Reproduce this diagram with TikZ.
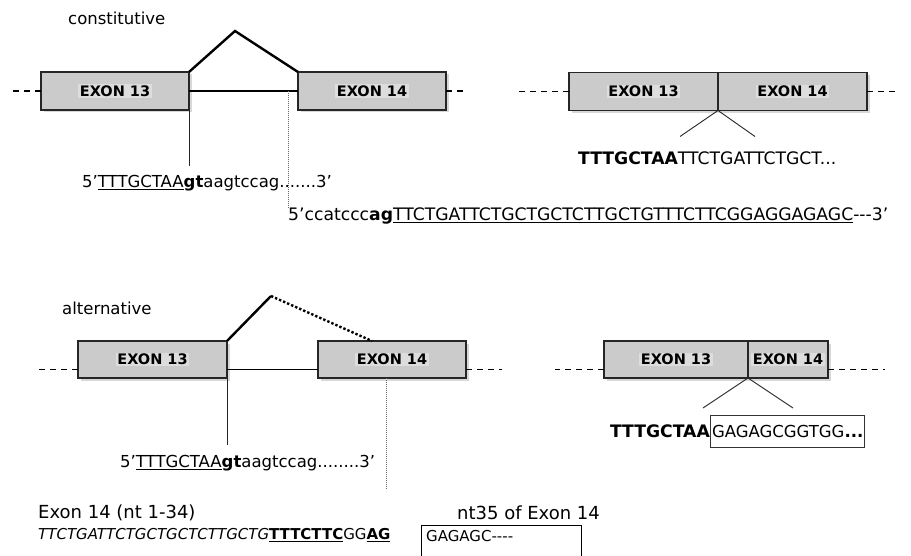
\documentclass[tikz,border=0pt]{standalone}
\usepackage{fontspec}
\setmainfont{DejaVu Sans}
\usetikzlibrary{shadows}
\definecolor{exonfill}{HTML}{CBCBCB}
\definecolor{labelfill}{HTML}{DDDDDD}
\setlength{\fboxsep}{1.5pt}
\newcommand{\exlabel}[1]{\colorbox{labelfill}{\bfseries\fontsize{14.5}{17}\selectfont #1}}
\tikzset{
  exon/.style={draw=black!85, line width=1.2pt, fill=exonfill, inner sep=0pt, outer sep=0pt,
    minimum height=38pt, drop shadow={shadow xshift=2.5pt, shadow yshift=-2.5pt, opacity=0.3}},
  lbl/.style={inner sep=0pt, anchor=west, font=\fontsize{16.5}{20}\selectfont},
  seq/.style={inner sep=0pt, anchor=west, font=\fontsize{16.5}{20}\selectfont},
  dashline/.style={line width=1.3pt, dash pattern=on 6pt off 5pt},
  intron/.style={line width=1.3pt},
  splice/.style={line width=2.4pt},
  cut/.style={line width=0.9pt, black!85},
  dotline/.style={line width=0.7pt, black!60, dash pattern=on 1pt off 1pt}
}
\begin{document}
\begin{tikzpicture}[x=1pt,y=-1pt]
\useasboundingbox[fill=white] (0,0) rectangle (911,556);

\node[lbl] (cons) at (68,18) {constitutive};
\node[exon, minimum width=148pt] (ca13) at (115,91) {\exlabel{EXON 13}};
\node[exon, minimum width=148pt] (ca14) at (372,91) {\exlabel{EXON 14}};
\coordinate (capex) at (235,31);
\draw[dashline] (ca13.west) -- +(-31,0);
\draw[dashline] (ca14.east) -- +(19,0);
\draw[intron] (ca13.east) -- (ca14.west);
\draw[splice] (ca13.north east) -- (capex) -- (ca14.north west);
\draw[cut] (ca13.south east) -- +(0,56);
\node[seq] (cdonor) at (82,183) {5’\underline{TTTGCTAA}\textbf{gt}aagtccag.......3’};
\node[seq, font=\fontsize{17.2}{20}\selectfont] (cacc) at (288,216)
  {5’ccatccc\textbf{ag}\underline{TTCTGATTCTGCTGCTCTTGCTGTTTCTTCGGAGGAGAGC}-{}-{}-3’};
\draw[dotline] (cacc.north west) -- (cacc.north west |- ca13.east);

\node[exon, minimum width=149pt] (cr13) at (643.5,91.5) {\exlabel{EXON 13}};
\node[exon, minimum width=149pt, anchor=west] (cr14) at (cr13.east) {\exlabel{EXON 14}};
\draw[dashline] (cr13.west) -- +(-52,0);
\draw[dashline] (cr14.east) -- +(29,0);
\foreach \dx in {-38,37}
  \draw[cut] (cr13.south east) -- +(\dx,26);
\node[seq, font=\fontsize{17.2}{20}\selectfont] (cjoin) at (578,158) {\textbf{TTTGCTAA}TTCTGATTCTGCT...};

\node[lbl] (alt) at (62,308) {alternative};
\node[exon, minimum width=149pt, minimum height=37pt] (ab13) at (152.5,359.5) {\exlabel{EXON 13}};
\node[exon, minimum width=148pt, minimum height=37pt] (ab14) at (392,359.5) {\exlabel{EXON 14}};
\coordinate (aapex) at (271,296);
\draw[dashline] ([yshift=-10pt]ab13.west) -- +(-41,0);
\draw[dashline] ([yshift=-10pt]ab14.east) -- +(36,0);
\draw[intron] ([yshift=-10pt]ab13.east) -- ([yshift=-10pt]ab14.west);
\draw[splice] (ab13.north east) -- (aapex);
\draw[splice, dotted] (aapex) -- ([xshift=54pt]ab14.north west);
\draw[cut] (ab13.south east) -- +(0,67);
\node[seq] (adonor) at (120,463) {5’\underline{TTTGCTAA}\textbf{gt}aagtccag........3’};
\draw[dotline] ([xshift=68pt]ab14.south west) -- +(0,112);

\node[exon, minimum width=144pt, minimum height=37pt] (br13) at (676,359.5) {\exlabel{EXON 13}};
\node[exon, minimum width=80pt, minimum height=37pt, anchor=west] (br14) at (br13.east) {\exlabel{EXON 14}};
\draw[dashline] ([yshift=-10pt]br13.west) -- +(-49,0);
\draw[dashline] ([yshift=-10pt]br14.east) -- +(57,0);
\foreach \dx in {-45,45}
  \draw[cut] (br13.south east) -- +(\dx,30);
\node[seq, draw=black!80, line width=1pt, inner xsep=1.5pt, minimum height=32pt] (nbox) at (710,431)
  {GAGAGCGGTGG\textbf{...}};
\node[seq, anchor=east, font=\fontsize{17.2}{20}\selectfont] (njoin) at (nbox.west) {\textbf{TTTGCTAA}};

\node[lbl, font=\fontsize{18}{21}\selectfont] (nt1) at (38,513) {Exon 14 (nt 1-34)};
\node[seq, font=\fontsize{15}{18}\selectfont] (ntseq) at (38,535)
  {\textit{TTCTGATTCTGCTGCTCTTGCTG}\underline{\textbf{TTTCTTC}}GG\underline{\textbf{AG}}};
\node[lbl, font=\fontsize{18}{21}\selectfont] (nt35) at (457,513) {nt35 of Exon 14};
\node[draw, line width=1.2pt, anchor=north west, minimum width=160pt, minimum height=45pt] (ntbox) at (421,525) {};
\node[seq, font=\fontsize{15}{18}\selectfont] (ntnext) at ([xshift=5pt,yshift=-11pt]ntbox.north west) {GAGAGC-{}-{}-{}-};
\end{tikzpicture}
\end{document}
